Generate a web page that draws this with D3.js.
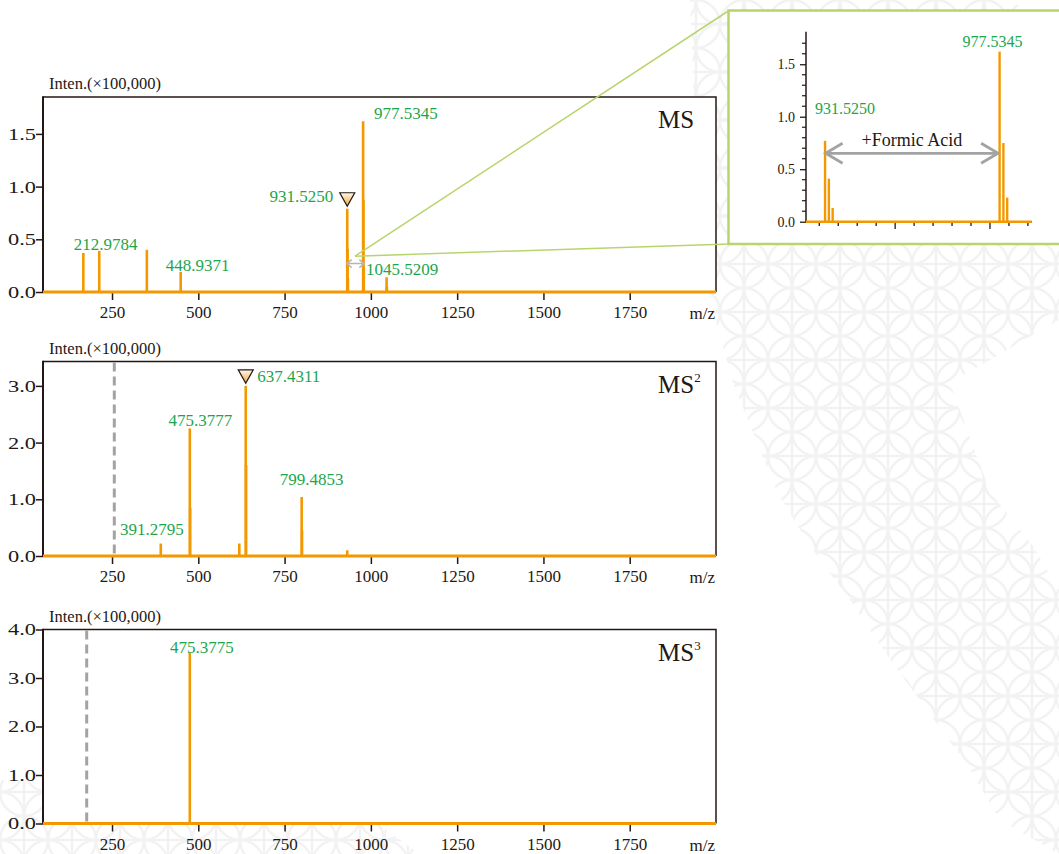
<!DOCTYPE html>
<html>
<head>
<meta charset="utf-8">
<script src="https://cdn.jsdelivr.net/npm/d3@7"></script>
<style>
  html, body { margin: 0; padding: 0; background: #ffffff; }
  svg { display: block; }
</style>
</head>
<body>
<script>
// ---------------- DATA ----------------
// MS (full scan) peaks
const msMz  = [166.9, 212.9784, 350.9, 448.9371, 931.5250, 932.53, 933.53, 977.5345, 978.54, 979.54, 1045.5209, 1046.52];
const msInt = [0.37, 0.39, 0.40, 0.19, 0.79, 0.41, 0.13, 1.62, 0.87, 0.23, 0.14, 0.05];
const msLabelMz = [212.9784, 448.9371, 931.5250, 977.5345, 1045.5209];

// MS2 peaks
const ms2Mz  = [391.2795, 475.3777, 476.38, 618.8, 637.4311, 638.44, 799.4853, 800.49, 931.5];
const ms2Int = [0.22, 2.25, 0.85, 0.22, 3.00, 1.60, 1.04, 0.45, 0.10];
const ms2LabelMz = [391.2795, 475.3777, 637.4311, 799.4853];

// MS3 peaks
const ms3Mz  = [475.3775];
const ms3Int = [3.52];
const ms3LabelMz = [475.3775];

// precursor marks and low-mass cut-off lines
const precursorMz = [931.5250, 637.4311, null];
const cutoffMz = [null, 256.6, 176.6];

// axes
const xDomain = [50, 2000];
const xTicks = [250, 500, 750, 1000, 1250, 1500, 1750];
const yMaxes = [1.85, 3.43, 4.0];
const yTicksList = [[0, 0.5, 1.0, 1.5], [0, 1, 2, 3], [0, 1, 2, 3, 4]];
const panelTitles = ["MS", "MS", "MS"];
const panelSups = [null, "2", "3"];
const yUnitLabel = "Inten.(\u00d7100,000)";
const xUnitLabel = "m/z";

// inset (zoom of precursor region)
const insetXDomain = [926.5, 986];
const insetYMax = 1.81;
const insetYTicks = [0, 0.5, 1.0, 1.5];
const insetYMinor = [0.1,0.2,0.3,0.4,0.6,0.7,0.8,0.9,1.1,1.2,1.3,1.4,1.6,1.7];
const insetXMajor = [950, 975];
const insetXMinor = [930,935,940,945,955,960,965,970,980,985];
const insetMz  = [931.5250, 932.53, 933.53, 977.5345, 978.54, 979.54];
const insetInt = [0.77, 0.41, 0.13, 1.62, 0.75, 0.23];
const insetLabelMz = [931.5250, 977.5345];
const insetNote = "+Formic Acid";

// ---------------- STYLE / LAYOUT ----------------
const W = 1059, H = 854;
const ORANGE = "#f39800", GREEN = "#1ea54c", DARK = "#231815", GRAY = "#a3a3a3", LIME = "#b8d56c";
const FONT = "'Liberation Serif','Times New Roman',serif";
const plotLeft = 43, plotRight = 716;
const panelGeom = [
  {top: 97, bottom: 292},
  {top: 361.5, bottom: 556},
  {top: 629.5, bottom: 823.5}
];
// label offsets relative to the peak (px)
const labelLayout = [
  [{a:"middle", dx:6.5, dy:-1}, {a:"middle", dx:17, dy:-1}, {a:"end", dx:-14, dy:-6.5}, {a:"start", dx:11, dy:-2.5}, {a:"start", dx:-20.5, dy:-2.3}],
  [{a:"middle", dx:-9, dy:-9}, {a:"middle", dx:10.5, dy:-2.6}, {a:"start", dx:11.5, dy:-4.3}, {a:"middle", dx:10, dy:-11.7}],
  [{a:"middle", dx:12, dy:0}]
];
const insetLabelLayout = [{a:"start", dx:-10, dy:-27}, {a:"start", dx:-37, dy:-5}];

const svg = d3.select("body").append("svg")
  .attr("width", W).attr("height", H)
  .style("font-family", FONT);

const defs = svg.append("defs");
// watermark pattern
const WM = "#f2f2f2";
const pat = defs.append("pattern").attr("id", "wm").attr("patternUnits", "userSpaceOnUse")
  .attr("width", 48).attr("height", 48);
[[0,0],[48,0],[0,48],[48,48],[24,24]].forEach(([cx,cy]) => {
  pat.append("circle").attr("cx", cx).attr("cy", cy).attr("r", 24)
    .attr("fill", "none").attr("stroke", WM).attr("stroke-width", 2.5);
});
pat.append("line").attr("x1", 24).attr("x2", 24).attr("y1", 0).attr("y2", 48).attr("stroke", WM).attr("stroke-width", 2.5);
pat.append("line").attr("x1", 0).attr("x2", 48).attr("y1", 24).attr("y2", 24).attr("stroke", WM).attr("stroke-width", 2.5);

const grad = defs.append("linearGradient").attr("id", "tri").attr("x1", 0).attr("y1", 0).attr("x2", 0).attr("y2", 1);
grad.append("stop").attr("offset", "0%").attr("stop-color", "#fffaf2");
grad.append("stop").attr("offset", "100%").attr("stop-color", "#f5a030");

// watermark band
svg.append("path")
  .attr("d", "M690,0 L1010,0 L1059,30 L1059,320 L950,383 L990,492 L1033,546 L1059,590 L1059,854 L1000,820 L967,765 L887,655 L850,600 L810,546 L777,492 L733,383 L710,300 L700,250 Z")
  .attr("fill", "url(#wm)");
svg.append("path")
  .attr("d", "M0,780 L330,790 L420,854 L0,854 Z")
  .attr("fill", "url(#wm)");

const panelData = [
  {mz: msMz, inten: msInt, labels: msLabelMz},
  {mz: ms2Mz, inten: ms2Int, labels: ms2LabelMz},
  {mz: ms3Mz, inten: ms3Int, labels: ms3LabelMz}
];
const fmt4 = d3.format(".4f");
const fmt1 = d3.format(".1f");

let topScales = null;

panelData.forEach((pd, i) => {
  const geo = panelGeom[i];
  const x = d3.scaleLinear().domain(xDomain).range([plotLeft, plotRight]);
  const y = d3.scaleLinear().domain([0, yMaxes[i]]).range([geo.bottom, geo.top]);
  if (i === 0) topScales = {x, y};
  const g = svg.append("g");

  // white plot area
  g.append("rect").attr("x", plotLeft).attr("y", geo.top)
    .attr("width", plotRight - plotLeft).attr("height", geo.bottom - geo.top).attr("fill", "#fff");

  // frame (top & right)
  g.append("path")
    .attr("d", `M${plotLeft},${geo.top} H${plotRight} V${geo.bottom}`)
    .attr("fill", "none").attr("stroke", DARK).attr("stroke-width", 1.5);

  // cutoff dashed line
  if (cutoffMz[i] != null) {
    g.append("line").attr("x1", x(cutoffMz[i])).attr("x2", x(cutoffMz[i]))
      .attr("y1", geo.top + 1).attr("y2", geo.bottom)
      .attr("stroke", GRAY).attr("stroke-width", 3).attr("stroke-dasharray", "9,5");
  }

  // x axis
  const xa = g.append("g").attr("transform", `translate(0,${geo.bottom})`)
    .call(d3.axisBottom(x).tickValues(xTicks).tickSize(8).tickPadding(6).tickFormat(d3.format("d")));
  xa.select(".domain").remove();
  xa.selectAll(".tick line").attr("stroke", DARK).attr("stroke-width", 1.5);
  xa.selectAll(".tick text").attr("fill", DARK).style("font-size", "17px").style("font-family", FONT);

  // y axis
  const ya = g.append("g").attr("transform", `translate(${plotLeft},0)`)
    .call(d3.axisLeft(y).tickValues(yTicksList[i]).tickSize(7).tickPadding(0).tickFormat(fmt1));
  ya.select(".domain").remove();
  ya.selectAll(".tick line").attr("stroke", DARK).attr("stroke-width", 1.5);
  ya.selectAll(".tick text").attr("fill", DARK).style("font-size", "17px").style("font-family", FONT)
    .attr("textLength", 28).attr("lengthAdjust", "spacingAndGlyphs");
  g.append("line").attr("x1", plotLeft).attr("x2", plotLeft).attr("y1", geo.top - 0.7).attr("y2", geo.bottom)
    .attr("stroke", DARK).attr("stroke-width", 2);

  // peaks
  g.selectAll(".pk").data(pd.mz.map((m, k) => [m, pd.inten[k]])).enter().append("line")
    .attr("x1", d => x(d[0])).attr("x2", d => x(d[0]))
    .attr("y1", y(0)).attr("y2", d => y(d[1]))
    .attr("stroke", ORANGE).attr("stroke-width", 2.6);

  // baseline
  g.append("line").attr("x1", plotLeft).attr("x2", plotRight).attr("y1", y(0)).attr("y2", y(0))
    .attr("stroke", ORANGE).attr("stroke-width", 3);

  // labels
  pd.labels.forEach((m, k) => {
    const idx = d3.minIndex(pd.mz, v => Math.abs(v - m));
    const L = labelLayout[i][k];
    g.append("text").attr("x", x(m) + L.dx).attr("y", y(pd.inten[idx]) + L.dy)
      .attr("text-anchor", L.a).attr("fill", GREEN).style("font-size", "17px")
      .text(fmt4(m));
  });

  // precursor triangle
  if (precursorMz[i] != null) {
    const idx = d3.minIndex(pd.mz, v => Math.abs(v - precursorMz[i]));
    const px = x(precursorMz[i]), py = y(pd.inten[idx]) - 2.5;
    g.append("path").attr("d", `M${px - 7.5},${py - 13.5} L${px + 7.5},${py - 13.5} L${px},${py} Z`)
      .attr("fill", "url(#tri)").attr("stroke", DARK).attr("stroke-width", 1.2).attr("stroke-linejoin", "miter");
  }

  // titles / units
  g.append("text").attr("x", 49).attr("y", geo.top - 8).attr("fill", DARK)
    .style("font-size", "16.5px").text(yUnitLabel);
  g.append("text").attr("x", plotRight - 1).attr("y", geo.bottom + 27).attr("text-anchor", "end")
    .attr("fill", DARK).style("font-size", "17px").text(xUnitLabel);
  const t = g.append("text").attr("x", 658).attr("y", geo.top + 31).attr("fill", DARK).style("font-size", "25px");
  t.append("tspan").text(panelTitles[i]);
  if (panelSups[i]) t.append("tspan").attr("dy", -11).style("font-size", "13px").text(panelSups[i]);
});

// ---------- zoom connectors on top panel ----------
{
  const {x, y} = topScales;
  const ox = x(954), oy = y(0.34);
  svg.append("line").attr("x1", ox).attr("y1", oy).attr("x2", 729).attr("y2", 10.5)
    .attr("stroke", LIME).attr("stroke-width", 1.5);
  svg.append("line").attr("x1", ox).attr("y1", oy).attr("x2", 729).attr("y2", 244)
    .attr("stroke", LIME).attr("stroke-width", 1.5);
  // small double arrow
  const ax1 = x(930), ax2 = x(981), ay = y(0.27);
  svg.append("path")
    .attr("d", `M${ax1},${ay} H${ax2} M${ax1 + 5},${ay - 4} L${ax1},${ay} L${ax1 + 5},${ay + 4} M${ax2 - 5},${ay - 4} L${ax2},${ay} L${ax2 - 5},${ay + 4}`)
    .attr("fill", "none").attr("stroke", "#b4b4b4").attr("stroke-width", 1.5);
}

// ---------- inset ----------
{
  const gi = svg.append("g");
  gi.append("rect").attr("x", 728.5).attr("y", 10.5).attr("width", 345).attr("height", 233.5)
    .attr("fill", "#fff").attr("stroke", LIME).attr("stroke-width", 2.5);
  const xi = d3.scaleLinear().domain(insetXDomain).range([806, 1031.7]);
  const yi = d3.scaleLinear().domain([0, insetYMax]).range([221.7, 31.7]);

  // y axis
  gi.append("line").attr("x1", 806).attr("x2", 806).attr("y1", 31.7).attr("y2", 221.7).attr("stroke", DARK).attr("stroke-width", 1.5);
  gi.selectAll(".ymn").data(insetYMinor).enter().append("line")
    .attr("x1", 802).attr("x2", 806).attr("y1", d => yi(d)).attr("y2", d => yi(d))
    .attr("stroke", DARK).attr("stroke-width", 1.2);
  const ya = gi.append("g").attr("transform", "translate(806,0)")
    .call(d3.axisLeft(yi).tickValues(insetYTicks).tickSize(6).tickPadding(5).tickFormat(fmt1));
  ya.select(".domain").remove();
  ya.selectAll(".tick line").attr("stroke", DARK).attr("stroke-width", 1.3);
  ya.selectAll(".tick text").attr("fill", DARK).style("font-size", "14px").style("font-family", FONT);

  // x axis
  gi.append("line").attr("x1", 806).attr("x2", 1031.7).attr("y1", 221.7).attr("y2", 221.7).attr("stroke", DARK).attr("stroke-width", 1.5);
  gi.selectAll(".xmn").data(insetXMinor).enter().append("line")
    .attr("x1", d => xi(d)).attr("x2", d => xi(d)).attr("y1", 221.7).attr("y2", 226)
    .attr("stroke", DARK).attr("stroke-width", 1.3);
  gi.selectAll(".xmj").data(insetXMajor).enter().append("line")
    .attr("x1", d => xi(d)).attr("x2", d => xi(d)).attr("y1", 221.7).attr("y2", 229)
    .attr("stroke", DARK).attr("stroke-width", 1.3);

  // peaks
  gi.selectAll(".ipk").data(insetMz.map((m, k) => [m, insetInt[k]])).enter().append("line")
    .attr("x1", d => xi(d[0])).attr("x2", d => xi(d[0]))
    .attr("y1", yi(0)).attr("y2", d => yi(d[1]))
    .attr("stroke", ORANGE).attr("stroke-width", 2.4);
  gi.append("line").attr("x1", 806).attr("x2", 1031.7).attr("y1", yi(0)).attr("y2", yi(0))
    .attr("stroke", ORANGE).attr("stroke-width", 2.6);

  insetLabelMz.forEach((m, k) => {
    const idx = d3.minIndex(insetMz, v => Math.abs(v - m));
    const L = insetLabelLayout[k];
    gi.append("text").attr("x", xi(m) + L.dx).attr("y", yi(insetInt[idx]) + L.dy)
      .attr("text-anchor", L.a).attr("fill", GREEN).style("font-size", "16px").text(fmt4(m));
  });

  // formic acid arrow
  const a1 = xi(insetLabelMz[0]) + 0.5, a2 = xi(insetLabelMz[1]) - 1.5, ay = 153.3;
  gi.append("path")
    .attr("d", `M${a1},${ay} H${a2} M${a1 + 17},${ay - 10} L${a1},${ay} L${a1 + 17},${ay + 10} M${a2 - 17},${ay - 10} L${a2},${ay} L${a2 - 17},${ay + 10}`)
    .attr("fill", "none").attr("stroke", GRAY).attr("stroke-width", 2.8);
  gi.append("text").attr("x", (a1 + a2) / 2).attr("y", 145.7).attr("text-anchor", "middle")
    .attr("fill", DARK).style("font-size", "18px").text(insetNote);
}
</script>
</body>
</html>
